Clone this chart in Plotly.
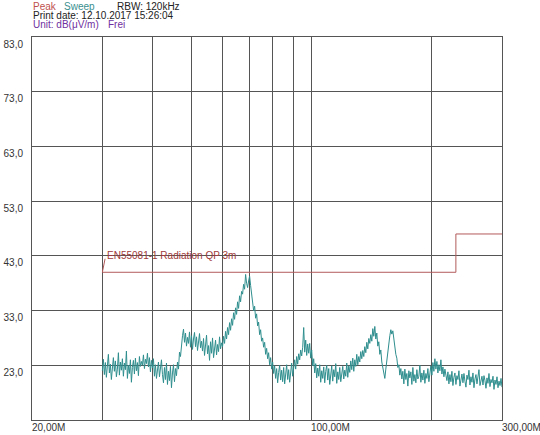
import numpy as np
import plotly.graph_objects as go

# ---------------- data ----------------
SWEEP_START_MHZ = 30.0
SWEEP_STOP_MHZ = 300.0

level_db = [
    22.0, 24.1, 21.3, 23.5, 20.8, 22.9, 25.0, 21.6, 23.2, 20.4, 22.7, 24.4, 21.9, 23.8, 20.9, 22.3, 25.3, 21.2, 23.6, 22.1,
    24.2, 21.0, 23.4, 22.2, 25.6, 20.6, 23.0, 21.5, 24.0, 19.9, 22.6, 23.9, 21.4, 24.3, 22.0, 23.5, 21.1, 24.6, 22.8, 23.7,
    23.0, 24.9, 22.4, 24.1, 23.3, 25.2, 22.7, 24.4, 21.8, 23.9, 22.5, 24.2, 21.0, 23.1, 20.6, 22.8, 23.6, 20.9, 22.2, 24.0,
    21.3, 19.8, 22.6, 20.4, 23.4, 19.5, 21.9, 20.2, 22.8, 18.9, 21.6, 23.1, 20.0, 22.4, 21.1, 23.6, 22.3, 25.4, 24.6, 27.3,
    28.4, 29.6, 27.2, 28.9, 26.5, 28.1, 27.0, 29.1, 26.3, 28.4, 25.9, 27.8, 29.0, 26.4, 28.2, 25.7, 27.6, 28.8, 26.2, 27.4,
    25.6, 27.9, 24.8, 26.9, 28.5, 25.1, 26.6, 23.9, 27.3, 25.2, 28.0, 24.4, 26.2, 27.6, 24.9, 26.8, 25.5, 28.2, 26.0, 27.1,
    26.4, 28.3, 27.0, 29.2, 27.8, 29.9, 28.6, 30.8, 29.4, 31.5, 30.3, 32.6, 31.4, 33.5, 32.3, 34.6, 33.4, 35.7, 34.6, 36.5,
    36.0, 37.8, 36.9, 39.6, 38.0, 37.2, 38.4, 39.3, 37.6, 36.2, 34.4, 33.0, 33.8, 31.6, 32.4, 30.2, 30.9, 28.6, 29.5, 27.4,
    28.0, 26.3, 27.2, 25.0, 26.1, 24.2, 25.3, 23.1, 24.4, 22.3, 23.6, 21.5, 22.9, 20.6, 22.4, 19.8, 21.7, 23.0, 20.3, 22.1,
    20.0, 22.6, 19.6, 21.8, 23.1, 20.4, 22.2, 19.9, 21.5, 23.4, 21.0, 22.7, 24.0, 22.3, 24.6, 23.2, 25.1, 24.0, 25.8, 24.7,
    26.3, 29.9, 25.4, 27.6, 24.8, 26.9, 25.2, 27.0, 24.3, 25.8, 22.9, 24.2, 21.6, 23.3, 20.7, 22.5, 21.0, 23.1, 19.9, 22.0,
    20.6, 22.7, 19.8, 21.9, 23.0, 20.3, 22.4, 19.5, 21.6, 22.9, 20.1, 22.2, 20.9, 23.3, 19.7, 21.8, 20.4, 22.6, 20.0, 21.4,
    22.8, 20.5, 22.1, 21.0, 23.4, 20.8, 22.9, 21.7, 23.8, 22.2, 24.3, 21.9, 24.0, 22.8, 25.0, 23.1, 24.6, 23.6, 25.5, 24.2,
    25.7, 24.6, 26.4, 25.3, 27.2, 26.0, 27.9, 27.0, 28.6, 27.4, 29.7, 28.3, 30.1, 27.8, 28.9, 26.5, 27.3, 25.0, 25.8, 23.6,
    22.5, 21.4, 20.6, 22.3, 24.0, 25.8, 27.3, 28.4, 29.5, 28.7, 29.3, 27.6, 26.9, 25.0, 24.3, 22.6, 23.1, 21.2, 22.4, 20.5,
    21.9, 19.6, 22.3, 20.4, 21.5, 19.2, 22.0, 20.7, 21.8, 19.5, 22.6, 20.1, 21.3, 19.8, 22.2, 20.5, 21.0, 23.0, 19.9, 21.6,
    20.3, 22.1, 19.7, 21.5, 20.6, 22.4, 20.0, 21.8, 22.9, 21.2, 23.5, 21.9, 24.2, 22.3, 23.7, 21.6, 23.1, 22.0, 24.0, 21.4,
    22.7, 20.9, 22.3, 21.2, 20.2, 21.8, 19.6, 21.3, 20.0, 21.9, 19.3, 20.8, 21.6, 19.5, 21.1, 20.4, 22.0, 19.2, 20.7, 21.4,
    19.8, 21.5, 20.1, 19.0, 21.2, 20.4, 22.1, 19.4, 20.9, 19.9, 21.6, 18.9, 20.5, 21.3, 19.6, 20.8, 22.2, 19.3, 20.6, 21.0,
    19.4, 21.1, 20.2, 18.8, 20.7, 19.7, 21.5, 19.1, 20.4, 19.8, 21.0, 18.6, 20.3, 19.5, 20.9, 18.9, 20.1, 19.3, 20.6, 19.0,
]

# limit line EN55081-1 Radiation QP 3m
limit_freq_mhz = [30, 230, 230, 300]
limit_db = [40, 40, 47, 47]
limit_name = "EN55081-1 Radiation QP 3m"

# axes
x_range_mhz = [20, 300]
x_grid_mhz = [20, 30, 40, 50, 60, 70, 80, 90, 100, 200, 300]
x_label_mhz = [20, 100, 300]
x_label_text = ["20,00M", "100,00M", "300,00M"]
y_range = [13, 83]
y_tick_vals = [23, 33, 43, 53, 63, 73, 83]
y_tick_text = ["23,0", "33,0", "43,0", "53,0", "63,0", "73,0", "83,0"]

# ---------------- figure ----------------
freq_hz = np.logspace(np.log10(SWEEP_START_MHZ * 1e6), np.log10(SWEEP_STOP_MHZ * 1e6), len(level_db))

FONT = "Liberation Sans, Arial, sans-serif"
GRID = "#555555"
TRACE = "#2f8e8e"
LIMIT = "#b35a5a"

fig = go.Figure()
fig.add_trace(go.Scatter(x=freq_hz, y=level_db, mode="lines",
                         line=dict(color=TRACE, width=1), showlegend=False, hoverinfo="skip"))
fig.add_trace(go.Scatter(x=[f * 1e6 for f in limit_freq_mhz], y=limit_db, mode="lines",
                         line=dict(color=LIMIT, width=1), showlegend=False, hoverinfo="skip"))

annotations = []
# limit label + leader
annotations.append(dict(x=np.log10(limit_freq_mhz[0] * 1e6), y=y_tick_vals[2], xref="x", yref="y",
                        text=limit_name, showarrow=False, xanchor="left", yanchor="middle", xshift=3, yshift=0,
                        font=dict(family=FONT, size=10, color="#a03a3a")))
annotations.append(dict(x=np.log10(limit_freq_mhz[0] * 1e6), y=limit_db[0], xref="x", yref="y",
                        text="", showarrow=True, arrowhead=0, arrowwidth=1, arrowcolor=LIMIT,
                        ax=3, ay=-15, axref="pixel", ayref="pixel", standoff=0, startstandoff=0))
# x labels, left-aligned at grid lines
for f, t in zip(x_label_mhz, x_label_text):
    annotations.append(dict(x=np.log10(f * 1e6), y=0, xref="x", yref="paper", text=t, showarrow=False,
                            xanchor="left", yanchor="top", yshift=0, xshift=-2,
                            font=dict(family=FONT, size=10, color="#333333")))
# header
hdr = [
    ("Peak", "#c0504d", 0, 31),
    ("Sweep", "#3a8f8f", 31, 31),
    ("RBW: 120kHz", "#222222", 84, 31),
    ("Print date: 12.10.2017 15:26:04", "#222222", 0, 22),
    ("Unit: dB(\u03bcV/m)", "#7030a0", 0, 12.5),
    ("Frei", "#7030a0", 75, 12.5),
]
for text, col, dx, dy in hdr:
    annotations.append(dict(x=0, y=1, xref="paper", yref="paper", text=text, showarrow=False,
                            xanchor="left", yanchor="middle", xshift=dx - 1, yshift=dy,
                            font=dict(family=FONT, size=10, color=col)))

fig.update_layout(
    width=540, height=435,
    margin=dict(l=32, r=38, t=37, b=15, autoexpand=False),
    paper_bgcolor="white", plot_bgcolor="white",
    font=dict(family=FONT, size=10, color="#333333"),
    annotations=annotations,
    showlegend=False,
)
fig.update_xaxes(type="log", range=[np.log10(x_range_mhz[0] * 1e6), np.log10(x_range_mhz[1] * 1e6)],
                 tickvals=[f * 1e6 for f in x_grid_mhz], showticklabels=False, ticks="",
                 showgrid=True, gridcolor=GRID, gridwidth=1, automargin=False,
                 showline=True, linecolor=GRID, linewidth=1, mirror=True, zeroline=False)
fig.update_yaxes(range=y_range, tickvals=y_tick_vals, ticktext=y_tick_text, ticks="",
                 ticklabelshift=7, ticklabelstandoff=6, automargin=False,
                 tickfont=dict(family=FONT, size=10, color="#333333"),
                 showgrid=True, gridcolor=GRID, gridwidth=1,
                 showline=True, linecolor=GRID, linewidth=1, mirror=True, zeroline=False)

fig.write_html("out.html", config={"displayModeBar": False},
               post_script="document.body.style.margin='0';")
